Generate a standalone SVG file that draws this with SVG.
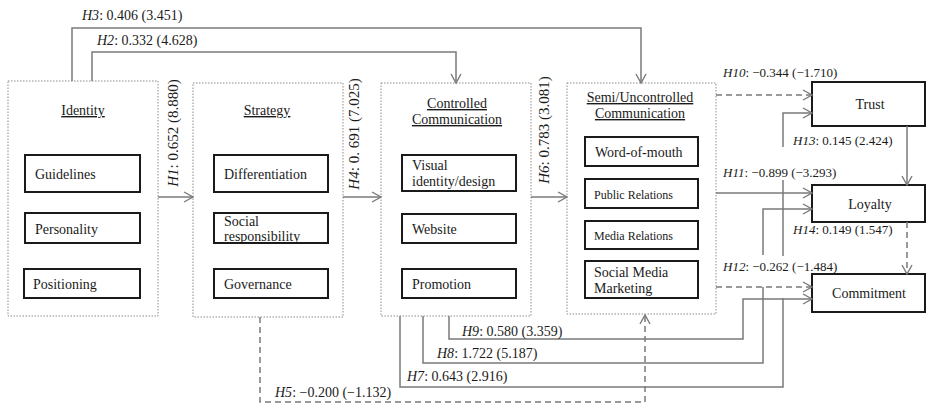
<svg xmlns="http://www.w3.org/2000/svg" width="927" height="404" viewBox="0 0 927 404">
<defs>
<marker id="arr" markerUnits="userSpaceOnUse" markerWidth="12" markerHeight="12" viewBox="0 0 12 12" refX="10" refY="6" orient="auto">
<path d="M1,1 L10,6 L1,11" fill="none" stroke="#7a7a7a" stroke-width="1.4"/>
</marker>
</defs>
<style>
text{font-family:"Liberation Serif","Times New Roman",serif;fill:#1a1a1a;font-size:14px}
.outer{fill:none;stroke:#8a8a8a;stroke-width:1;stroke-dasharray:1.5 1.5}
.inner{fill:#fff;stroke:#1a1a1a;stroke-width:2}
.out{fill:#fff;stroke:#1a1a1a;stroke-width:2}
.title{text-decoration:underline;text-anchor:middle}
.c{fill:none;stroke:#7a7a7a;stroke-width:1.5}
.d{stroke-dasharray:6 4}
.s12{font-size:12px}
.s13{font-size:13px}
.rot{font-size:15px;text-anchor:middle}
.mid{text-anchor:middle}
.i{font-style:italic}
</style>
<rect width="927" height="404" fill="#fff"/>

<g id="identity">
<rect class="outer" x="8" y="81" width="150" height="235"/>
<text class="title" x="83" y="115">Identity</text>
<rect class="inner" x="25" y="155" width="115" height="37"/>
<text x="35" y="179">Guidelines</text>
<rect class="inner" x="25" y="213" width="115" height="30"/>
<text x="35" y="234">Personality</text>
<rect class="inner" x="24" y="269" width="116" height="29"/>
<text x="33" y="289">Positioning</text>
</g>

<g id="strategy">
<rect class="outer" x="193" y="83" width="150" height="234"/>
<text class="title" x="267" y="115">Strategy</text>
<rect class="inner" x="214" y="155" width="114" height="37"/>
<text x="224" y="179">Differentiation</text>
<rect class="inner" x="214" y="213" width="114" height="30"/>
<text x="224" y="226">Social</text>
<text x="224" y="241">responsibility</text>
<rect class="inner" x="214" y="269" width="114" height="29"/>
<text x="224" y="289">Governance</text>
</g>

<g id="controlled">
<rect class="outer" x="381" y="83" width="150" height="233"/>
<text class="title" x="457" y="108">Controlled</text>
<text class="title" x="457" y="124">Communication</text>
<rect class="inner" x="402" y="155" width="114" height="36"/>
<text x="412" y="170">Visual</text>
<text x="412" y="186">identity/design</text>
<rect class="inner" x="402" y="214" width="114" height="29"/>
<text x="412" y="234">Website</text>
<rect class="inner" x="402" y="269" width="114" height="29"/>
<text x="412" y="289">Promotion</text>
</g>

<g id="semi">
<rect class="outer" x="567" y="83" width="149" height="231"/>
<text class="title" x="640" y="102">Semi/Uncontrolled</text>
<text class="title" x="640" y="118">Communication</text>
<rect class="inner" x="585" y="137" width="113" height="29"/>
<text x="595" y="157">Word-of-mouth</text>
<rect class="inner" x="585" y="179" width="113" height="29"/>
<text class="s12" x="594" y="199">Public Relations</text>
<rect class="inner" x="585" y="221" width="113" height="28"/>
<text class="s12" x="594" y="240">Media Relations</text>
<rect class="inner" x="585" y="261" width="113" height="37"/>
<text x="594" y="277">Social Media</text>
<text x="594" y="293">Marketing</text>
</g>

<g id="trust">
<rect class="out" x="812" y="82" width="113" height="44"/>
<text class="mid" x="870" y="109">Trust</text>
</g>
<g id="loyalty">
<rect class="out" x="812" y="185" width="113" height="37"/>
<text class="mid" x="870" y="209">Loyalty</text>
</g>
<g id="commitment">
<rect class="out" x="812" y="274" width="113" height="38"/>
<text class="mid" x="869" y="298">Commitment</text>
</g>

<g id="connectors">
<path class="c" d="M158,197 H193" marker-end="url(#arr)"/>
<path class="c" d="M343,197 H381" marker-end="url(#arr)"/>
<path class="c" d="M531,197 H567" marker-end="url(#arr)"/>
<path class="c" d="M92,81 V52 H456 V83" marker-end="url(#arr)"/>
<path class="c" d="M72,81 V28 H641 V83" marker-end="url(#arr)"/>
<path class="c d" d="M716,95 H812" marker-end="url(#arr)"/>
<path class="c" d="M716,193 H812" marker-end="url(#arr)"/>
<path class="c d" d="M716,287 H812" marker-end="url(#arr)"/>
<path class="c" d="M907,126 V185" marker-end="url(#arr)"/>
<path class="c d" d="M907,222 V274" marker-end="url(#arr)"/>
<path class="c d" d="M260,317 V402 H645 V315" marker-end="url(#arr)"/>
<path class="c" d="M449,316 V339 H743 V299 H812" marker-end="url(#arr)"/>
<path class="c" d="M423,316 V363 H763 V287"/>
<path class="c" d="M763,255 V209 H812" marker-end="url(#arr)"/>
<path class="c" d="M400,316 V387 H783 V298"/>
<path class="c" d="M783,256 V180"/>
<path class="c" d="M783,147 V113 H812" marker-end="url(#arr)"/>
</g>

<g id="labels">
<text x="82" y="20"><tspan class="i">H3</tspan>: 0.406 (3.451)</text>
<text x="97" y="45"><tspan class="i">H2</tspan>: 0.332 (4.628)</text>
<text class="rot" transform="translate(178,133) rotate(-90)"><tspan class="i">H1</tspan>: 0.652 (8.880)</text>
<text class="rot" transform="translate(359,134) rotate(-90)"><tspan class="i">H4</tspan>: 0. 691 (7.025)</text>
<text class="rot" transform="translate(549,130) rotate(-90)"><tspan class="i">H6</tspan>: 0.783 (3.081)</text>
<text class="s13" x="723" y="77"><tspan class="i">H10</tspan>: −0.344 (−1.710)</text>
<text class="s13" x="793" y="145"><tspan class="i">H13</tspan>: 0.145 (2.424)</text>
<text class="s13" x="723" y="177"><tspan class="i">H11</tspan>: −0.899 (−3.293)</text>
<text class="s13" x="793" y="234"><tspan class="i">H14</tspan>: 0.149 (1.547)</text>
<text class="s13" x="723" y="271"><tspan class="i">H12</tspan>: −0.262 (−1.484)</text>
<text x="462" y="336"><tspan class="i">H9</tspan>: 0.580 (3.359)</text>
<text x="437" y="358"><tspan class="i">H8</tspan>: 1.722 (5.187)</text>
<text x="407" y="381"><tspan class="i">H7</tspan>: 0.643 (2.916)</text>
<text x="275" y="397"><tspan class="i">H5</tspan>: −0.200 (−1.132)</text>
</g>
</svg>
